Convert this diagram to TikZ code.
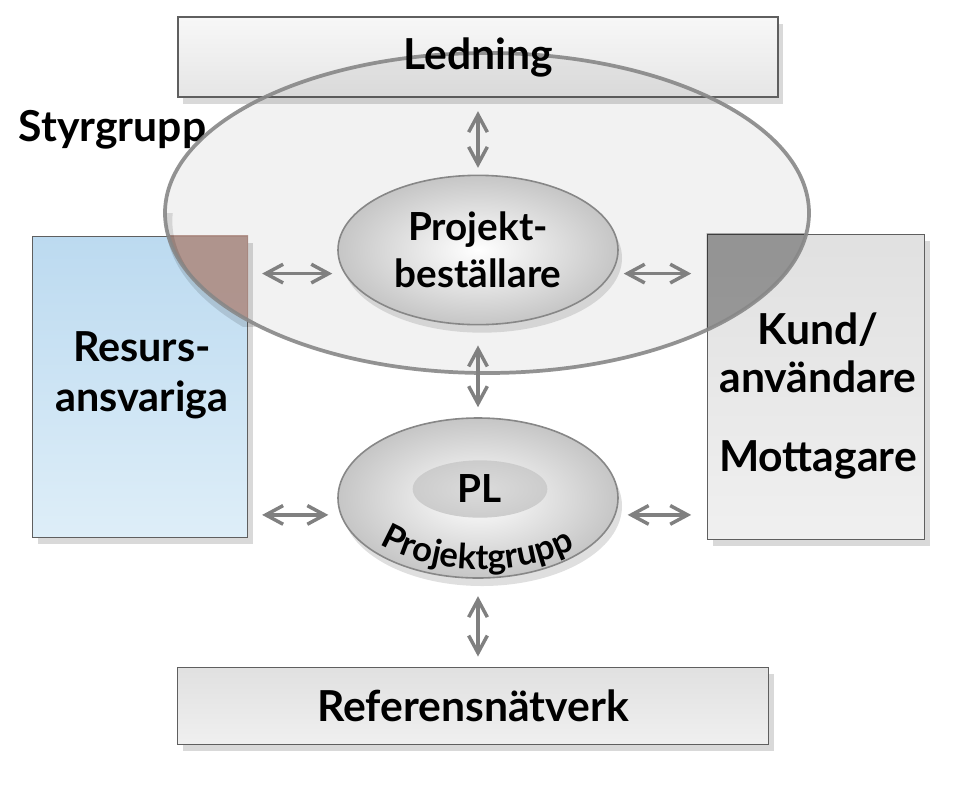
\documentclass[tikz,border=0pt]{standalone}
\usepackage{fontspec}
\setmainfont{Lato}
\usetikzlibrary{shapes.geometric,shadows,arrows.meta,decorations.text}

\definecolor{edgegray}{RGB}{95,95,95}
\definecolor{arrowgray}{RGB}{128,128,128}
\definecolor{ringgray}{RGB}{135,135,135}
\definecolor{resursblue}{RGB}{188,218,240}
\definecolor{resurslight}{RGB}{222,238,248}
\definecolor{overlapred}{RGB}{185,150,140}

\tikzset{
	box/.style={draw=edgegray, line width=1.2pt, inner sep=0pt, align=center,
		drop shadow={opacity=0.3, shadow xshift=4pt, shadow yshift=-5pt},
		font=\fontsize{32}{38}\selectfont\bfseries},
	oval/.style={ellipse, draw=ringgray, line width=1.2pt, inner sep=0pt, align=center,
		inner color=white, outer color=gray!45,
		drop shadow={opacity=0.25, shadow xshift=3pt, shadow yshift=-6pt},
		font=\fontsize{29}{35}\selectfont\bfseries},
	dblarrow/.style={{Straight Barb[length=13pt,width=14pt]}-{Straight Barb[length=13pt,width=14pt]},
		draw=arrowgray, line width=2.6pt},
}

\begin{document}
\begin{tikzpicture}[x=0.75pt,y=0.75pt,yscale=-1,xscale=1]
	\useasboundingbox (0,0) rectangle (975,794);
	
	% Box Node
	\node[box, minimum width=450pt, minimum height=60pt, top color=gray!6, bottom color=gray!20] (ledning) at (478,57) {};
	% Box Node
	\node[box, minimum width=161pt, minimum height=226pt, top color=resursblue, bottom color=resurslight] (resurs) at (140,387) {};
	% Box Node
	\node[box, minimum width=163pt, minimum height=229pt, top color=gray!24, bottom color=gray!12] (kund) at (816,387) {};
	% Box Node
	\node[box, minimum width=443pt, minimum height=58pt, top color=gray!24, bottom color=gray!12] (referens) at (473,706) {Referensnätverk};
	% Text Node
	\node[align=center, font=\fontsize{31}{37.5}\selectfont\bfseries] (resurstext) at (142,375) {Resurs-\\ansvariga};
	% Text Node
	\node[align=center, font=\fontsize{32}{36}\selectfont\bfseries] (kundtext) at (818,396) {Kund/\\användare\\[23pt]Mottagare};
	
	% Styrgrupp Node
	\node[ellipse, minimum width=483pt, minimum height=240pt, inner sep=0pt] (styr) at (487,213) {};
	\begin{scope}
		\clip (resurs.south west) rectangle (resurs.north east);
		\fill[overlapred, fill opacity=0.9] (styr.center) ellipse [x radius=241.5pt, y radius=120pt];
	\end{scope}
	\begin{scope}
		\clip (kund.south west) rectangle (kund.north east);
		\fill[black, fill opacity=0.3] (styr.center) ellipse [x radius=241.5pt, y radius=120pt];
	\end{scope}
	\fill[black, fill opacity=0.05] (styr.center) ellipse [x radius=241.5pt, y radius=120pt];
	% Shadow of ring
	\begin{scope}
		\clip (styr.west) rectangle (styr.south east);
		\draw[black, line width=5pt, draw opacity=0.12] ([xshift=3pt,yshift=6pt]styr.center) ellipse [x radius=241.5pt, y radius=120pt];
	\end{scope}
	% Text Node
	\node[anchor=west, font=\fontsize{32}{38}\selectfont\bfseries] (styrtext) at (14,130) {Styrgrupp};
	
	% Oval Node
	\node[oval, minimum width=210pt, minimum height=112pt] (pb) at (478,250) {Projekt-\\beställare};
	% Oval Node
	\node[oval, minimum width=210pt, minimum height=120pt] (pl) at (478,498) {};
	\node[ellipse, minimum width=101pt, minimum height=43pt, inner sep=0pt, inner color=gray!28, outer color=gray!40, font=\fontsize{29}{35}\selectfont\bfseries] (plin) at (480,489) {PL};
	% Curved Text
	\path[decorate, decoration={text along path, text align=center,
		text={|\fontsize{26}{30}\selectfont\bfseries|Projektgrupp}}]
		(362,532) .. controls (420,580) and (530,582) .. (594,538);
	
	% Ring
	\draw[ringgray, line width=2.8pt, draw opacity=0.9] (styr.center) ellipse [x radius=241.5pt, y radius=120pt];
	% Text Node
	\node[font=\fontsize{32}{38}\selectfont\bfseries] (ledningtext) at (ledning) {Ledning};
	
	% Connection
	\draw[dblarrow, shorten <=10pt, shorten >=5pt] (ledning.south -| pb.north) -- (pb.north);
	% Connection
	\draw[dblarrow, shorten <=15pt, shorten >=7.5pt] (pb.south) -- (pl.north);
	% Connection
	\draw[dblarrow, shorten <=13pt, shorten >=7.5pt] (pl.south) -- (pl.south |- referens.north);
	% Connection
	\draw[dblarrow, shorten <=10.5pt, shorten >=9pt] (resurs.east |- pb.190) -- (pb.190);
	% Connection
	\draw[dblarrow, shorten <=9pt, shorten >=11.5pt] (pb.-10) -- (kund.west |- pb.-10);
	% Connection
	\draw[dblarrow, shorten <=10.5pt, shorten >=9pt] (resurs.east |- pl.187) -- (pl.187);
	% Connection
	\draw[dblarrow, shorten <=9pt, shorten >=11.5pt] (pl.-7) -- (kund.west |- pl.-7);
	
\end{tikzpicture}
\end{document}
